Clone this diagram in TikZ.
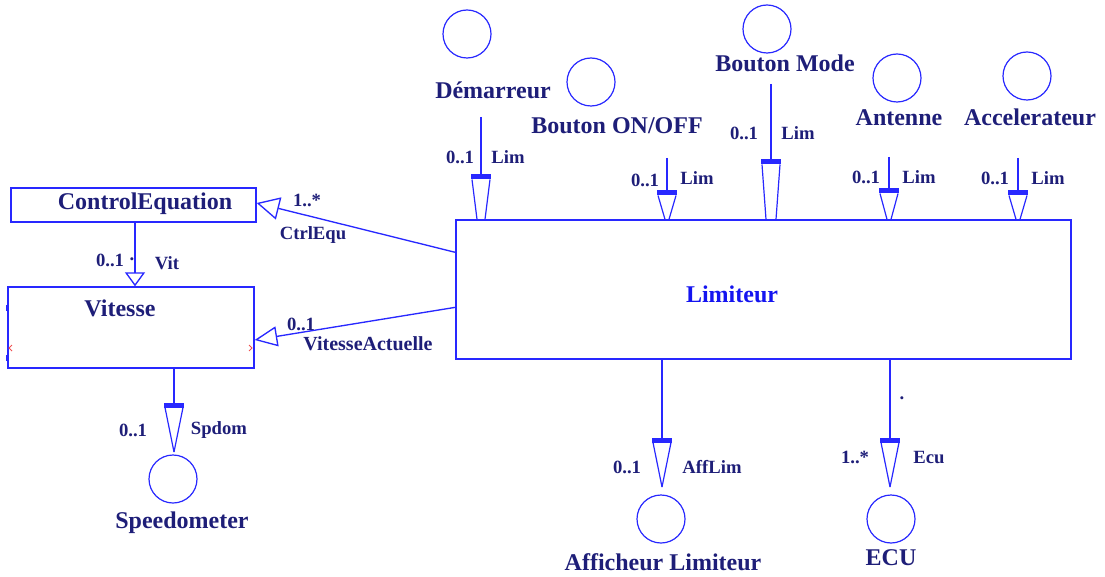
\documentclass[tikz,border=0pt]{standalone}
\usepackage{fontspec}
\setmainfont{Liberation Serif}
\usetikzlibrary{arrows.meta, positioning, calc}
\definecolor{lineA}{HTML}{2828FF}
\definecolor{textA}{HTML}{1E1E78}
\definecolor{textB}{HTML}{1414F0}
\definecolor{markA}{HTML}{F05050}
\tikzset{
  classbox/.style={draw=lineA, line width=1pt, inner sep=0pt},
  iface/.style={circle, draw=lineA, line width=0.9pt, minimum size=36pt, inner sep=0pt},
  ifname/.style={font=\fontsize{18}{20}\selectfont\bfseries, text=textA, inner sep=0pt},
  mult/.style={font=\fontsize{14}{16}\selectfont\bfseries, text=textA, inner sep=0pt},
  assoc/.style={draw=lineA, line width=1pt},
  genarrow/.style 2 args={-{Triangle[open, length=#1, width=#2]}}
}
% navigable end: thick bar, then a narrow taper down to the target
\newcommand{\navend}[3]{%
  \fill[lineA] ($(#1)+(-10,-2.5)$) rectangle ($(#1)+(10,2.5)$);
  \draw[lineA, line width=0.9pt] ($(#1)+(-9,2.5)$) -- ($(#2)+(-#3,0)$);
  \draw[lineA, line width=0.9pt] ($(#1)+(9,2.5)$) -- ($(#2)+(#3,0)$);
}

\begin{document}
\begin{tikzpicture}[x=0.75pt, y=-0.75pt]
  \useasboundingbox (0,0) rectangle (1105,577);

  % classes
  \node[classbox, minimum width=183.75pt, minimum height=25.5pt] (ctrl) at (133.5,205) {};
  \node[ifname] (ctrllbl) at (145,204) {ControlEquation};
  \node[classbox, minimum width=184.5pt, minimum height=60.75pt] (vit) at (131,327.5) {};
  \node[ifname] (vitlbl) at (120,308) {Vitesse};
  \node[classbox, minimum width=461.25pt, minimum height=104.25pt] (lim) at (763.5,289.5) {};
  \node[ifname, text=textB] (limlbl) at (732,294) {Limiteur};

  % interfaces on top
  \node[iface] (dem) at (467,34) {};
  \node[ifname] (demlbl) at (493,90) {Démarreur};
  \node[iface] (onoff) at (591,82) {};
  \node[ifname] (onofflbl) at (617,126) {Bouton ON/OFF};
  \node[iface] (mode) at (767,29) {};
  \node[ifname] (modelbl) at (785,63) {Bouton Mode};
  \node[iface] (ant) at (897,78) {};
  \node[ifname] (antlbl) at (899,118) {Antenne};
  \node[iface] (acc) at (1027,76) {};
  \node[ifname] (acclbl) at (1030,117) {Accelerateur};

  % interfaces below
  \node[iface] (spd) at (173,479) {};
  \node[ifname] (spdlbl) at (182,523) {Speedometer};
  \node[iface] (aff) at (661,519) {};
  \node[ifname] (afflbl) at (663,562) {Afficheur Limiteur};
  \node[iface] (ecu) at (891,519) {};
  \node[ifname] (eculbl) at (891,558) {ECU};

  % connector ends
  \coordinate (demA) at (481,117);   \coordinate (demB) at (481,177);
  \coordinate (onoffA) at (667,158); \coordinate (onoffB) at (667,193);
  \coordinate (modeA) at (771,84);   \coordinate (modeB) at (771,162);
  \coordinate (antA) at (889,157);   \coordinate (antB) at (889,191);
  \coordinate (accA) at (1018,158);  \coordinate (accB) at (1018,193);
  \coordinate (spdB) at (174,405);   \coordinate (spdT) at (174,452);
  \coordinate (affB) at (662,440);   \coordinate (affT) at (662,487);
  \coordinate (ecuB) at (890,440);   \coordinate (ecuT) at (890,487);

  \draw[assoc] (demA) -- (demB);     \navend{demB}{demB |- lim.north}{4}
  \draw[assoc] (onoffA) -- (onoffB); \navend{onoffB}{onoffB |- lim.north}{2}
  \draw[assoc] (modeA) -- (modeB);   \navend{modeB}{modeB |- lim.north}{5}
  \draw[assoc] (antA) -- (antB);     \navend{antB}{antB |- lim.north}{2}
  \draw[assoc] (accA) -- (accB);     \navend{accB}{accB |- lim.north}{2}

  \draw[assoc] (spdB |- vit.south) -- (spdB); \navend{spdB}{spdT}{0}
  \draw[assoc] (affB |- lim.south) -- (affB); \navend{affB}{affT}{0}
  \draw[assoc] (ecuB |- lim.south) -- (ecuB); \navend{ecuB}{ecuT}{0}

  % associations to the classes
  \draw[assoc, genarrow={17pt}{17pt}] ($(lim.north west)+(0,33)$) -- ($(ctrl.east)+(0,-2)$);
  \draw[assoc, genarrow={17pt}{15pt}] ($(lim.north west)+(0,88)$) -- ($(vit.east)+(0,12.5)$);
  \draw[assoc, genarrow={10.5pt}{15pt}] ($(ctrl.south)+(1.5,0)$) -- ($(vit.north)+(4,0)$);

  % role names and multiplicities
  \node[mult] (m1) at (460,157) {0..1};  \node[mult] (r1) at (508,157) {Lim};
  \node[mult] (m2) at (645,180) {0..1};  \node[mult] (r2) at (697,178) {Lim};
  \node[mult] (m3) at (744,133) {0..1};  \node[mult] (r3) at (798,133) {Lim};
  \node[mult] (m4) at (866,177) {0..1};  \node[mult] (r4) at (919,177) {Lim};
  \node[mult] (m5) at (995,178) {0..1};  \node[mult] (r5) at (1048,178) {Lim};
  \node[mult] (m6) at (627,467) {0..1};  \node[mult] (r6) at (712,467) {AffLim};
  \node[mult] (m7) at (855,457) {1..*};  \node[mult] (r7) at (929,457) {Ecu};
  \node[mult] (d7) at (902,398) {.};
  \node[mult] (m8) at (133,430) {0..1};  \node[mult] (r8) at (219,430) {Spdom};
  \node[mult] (m9) at (307,200) {1..*};  \node[mult] (r9) at (313,235) {CtrlEqu};
  \node[mult] (m10) at (301,324) {0..1};
  \node[mult, font=\fontsize{15}{17}\selectfont\bfseries] (r10) at (368,344) {VitesseActuelle};
  \node[mult] (m11) at (110,260) {0..1}; \node[mult] (r11) at (167,263) {Vit};
  \node[mult] (d11) at (132,259) {.};

  % small marks on the Vitesse box
  \draw[markA, line width=0.6pt] (12,345) -- (9,348) -- (12,351);
  \draw[markA, line width=0.6pt] (249,345) -- (252,348) -- (249,351);
  \draw[lineA, line width=1.5pt] (7,305) -- (7,311) (7,355) -- (7,361);
\end{tikzpicture}
\end{document}
